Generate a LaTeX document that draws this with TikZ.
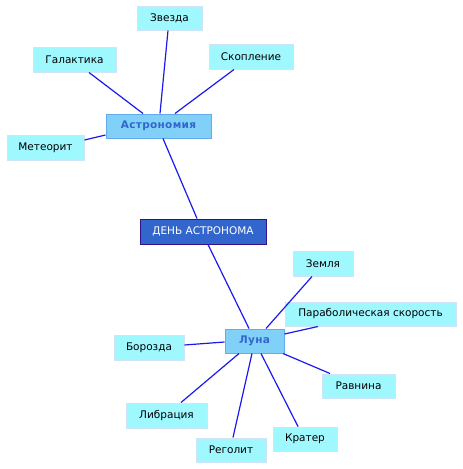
\documentclass[tikz,border=0pt]{standalone}
\usepackage{fontspec}
\setmainfont{DejaVu Sans}
\newfontfamily\midfont[LetterSpace=3]{DejaVu Sans}
\definecolor{leaf}{HTML}{A0F8FF}
\definecolor{leafb}{HTML}{D0E4F8}
\definecolor{mid}{HTML}{80D0F8}
\definecolor{midb}{HTML}{66AAEE}
\definecolor{midt}{HTML}{3366CC}
\definecolor{root}{HTML}{3366CC}
\definecolor{rootb}{HTML}{331188}
\definecolor{link}{HTML}{1A1AF0}
\tikzset{
  leafbox/.style={draw=leafb, fill=leaf, line width=1pt, inner sep=0pt, font=\fontsize{10.5}{12}\selectfont, text=black},
  midbox/.style={draw=midb, fill=mid, line width=1pt, inner sep=0pt, font=\midfont\fontsize{10.5}{12}\selectfont\bfseries, text=midt},
  rootbox/.style={draw=rootb, fill=root, line width=1pt, inner sep=0pt, font=\fontsize{10.5}{12}\selectfont, text=white},
  conn/.style={draw=link, line width=1.2pt},
}
\begin{document}
\begin{tikzpicture}[x=1pt,y=-1pt]
\useasboundingbox (0,0) rectangle (463,469);
\node[leafbox, minimum width=65pt, minimum height=24pt] (zv) at (169.5,18) {Звезда};
\node[leafbox, minimum width=83pt, minimum height=25pt] (gal) at (74.5,59.5) {Галактика};
\node[leafbox, minimum width=84pt, minimum height=25pt] (sk) at (251,56.5) {Скопление};
\node[midbox, minimum width=105pt, minimum height=24pt] (astro) at (158.5,126) {Астрономия};
\node[leafbox, minimum width=77pt, minimum height=25pt] (met) at (45.5,147.5) {Метеорит};
\node[rootbox, minimum width=126pt, minimum height=25pt] (den) at (203,231.5) {ДЕНЬ АСТРОНОМА};
\node[leafbox, minimum width=60pt, minimum height=25pt] (zem) at (323,263.5) {Земля};
\node[leafbox, minimum width=171pt, minimum height=24pt] (par) at (370.5,314) {Параболическая скорость};
\node[midbox, minimum width=59pt, minimum height=24pt] (luna) at (254.5,341) {Луна};
\node[leafbox, minimum width=70pt, minimum height=25pt] (bor) at (149,347.5) {Борозда};
\node[leafbox, minimum width=73pt, minimum height=24pt] (rav) at (358.5,386) {Равнина};
\node[leafbox, minimum width=81pt, minimum height=25pt] (lib) at (166.5,415.5) {Либрация};
\node[leafbox, minimum width=70pt, minimum height=24pt] (reg) at (231,450) {Реголит};
\node[leafbox, minimum width=64pt, minimum height=24pt] (kr) at (305,439) {Кратер};
\draw[conn] ([xshift=14.5pt]gal.south) -- ([xshift=-15.5pt]astro.north);
\draw[conn] ([xshift=-1.5pt]zv.south) -- ([xshift=1.5pt]astro.north);
\draw[conn] ([xshift=-17pt]sk.south) -- ([xshift=16.5pt]astro.north);
\draw[conn] ([yshift=7.5pt]met.east) -- ([yshift=-9pt]astro.west);
\draw[conn] ([xshift=4.5pt]astro.south) -- ([xshift=-6pt]den.north);
\draw[conn] ([xshift=5pt]den.south) -- ([xshift=-5.5pt]luna.north);
\draw[conn] ([xshift=-11pt]zem.south) -- ([xshift=11.5pt]luna.north);
\draw[conn] ([xshift=-52.5pt]par.south) -- ([yshift=7pt]luna.east);
\draw[conn] ([yshift=2.5pt]bor.east) -- ([yshift=-1pt]luna.west);
\draw[conn] ([xshift=-28.5pt]rav.north) -- ([xshift=28.5pt]luna.south);
\draw[conn] ([xshift=14.5pt]lib.north) -- ([xshift=-15.5pt]luna.south);
\draw[conn] ([xshift=2pt]reg.north) -- ([xshift=-2.5pt]luna.south);
\draw[conn] ([xshift=-7pt]kr.north) -- ([xshift=6.5pt]luna.south);
\end{tikzpicture}
\end{document}
